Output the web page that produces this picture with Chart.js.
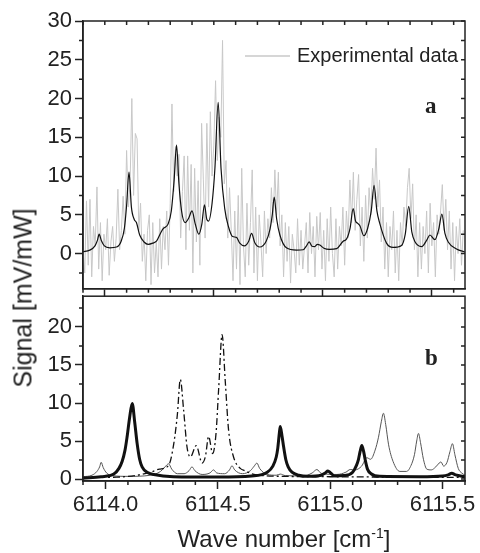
<!DOCTYPE html>
<html>
<head>
<meta charset="utf-8">
<script src="https://cdn.jsdelivr.net/npm/chart.js@4.4.0/dist/chart.umd.min.js"></script>
<style>
  body { margin: 0; background: #fff; }
  #wrap { position: relative; width: 480px; height: 553px; }
  #topBox { position: absolute; left: 0; top: 0; width: 480px; height: 305px; }
  #bottomBox { position: absolute; left: 0; top: 280px; width: 480px; height: 273px; }
  .axisTitle {
    position: absolute; font-family: 'Liberation Sans', Arial, sans-serif;
    color: #222; white-space: nowrap;
  }
  #yTitle { left: 23px; top: 298px; font-size: 25px; transform: translate(-50%, -50%) rotate(-90deg); }
  #xTitle { left: 284px; top: 539px; font-size: 24px; transform: translate(-50%, -50%); }
</style>
</head>
<body>
<div id="wrap">
  <div id="topBox"><canvas id="topChart"></canvas></div>
  <div id="bottomBox"><canvas id="bottomChart"></canvas></div>
  <div id="yTitle" class="axisTitle">Signal [mV/mW]</div>
  <div id="xTitle" class="axisTitle">Wave number [cm<sup style="font-size:14px">-1</sup>]</div>
</div>
<script>
// tick labels
const waveTicks = [6114.0, 6114.5, 6115.0, 6115.5];
const topSignalTicks = [0, 5, 10, 15, 20, 25, 30];
const bottomSignalTicks = [0, 5, 10, 15, 20];

// panel a: experimental data, sampled every 0.008 cm-1 from 6113.9
const expStart = 6113.9;
const expStep = 0.008;
const expSignal = [
  0.5, -2.5, 6.8, -1.5, 7.0, -3.0, 3.5, 1.0, 8.6, -2.0,
  4.0, -3.5, 2.5, 0.5, 4.5, -2.8, 1.5, 3.5, -1.0, 2.0,
  8.3, 0.5, 3.0, 7.4, 2.5, 13.3, 6.0, 9.0, 20.0, 7.5, 15.5, 14.8, 3.0, 6.5, -1.0,
  2.5, -3.5, 3.0, 5.0, -4.0, 4.0, -2.5, 1.5, -3.0, 4.5,
  -2.0, 3.5, 0.5, 5.5, -1.5, 6.5, 19.3, 8.0, 13.8, 10.0,
  12.8, 2.0, 8.0, 12.6, 0.5, 12.6, 3.0, 11.5, -2.5, 11.0,
  1.5, 9.4, -1.5, 16.8, 9.5, 2.0, 16.8, 6.0, 18.3, 10.0,
  14.0, 22.3, 12.0, 17.6, 15.0, 27.5, 9.0, 12.0, 2.0, 8.5,
  3.0, -3.5, 5.5, -2.0, 7.5, -4.0, 11.0, 1.0, -3.0, 6.5,
  -1.5, 4.0, 10.8, -2.5, 6.0, -3.5, 5.0, 1.5, -3.0, 5.5,
  0.0, 4.5, 2.0, 8.5, 4.0, 10.8, 5.0, 10.5, 1.0, 5.0,
  -3.0, 4.0, -1.0, 3.5, -3.8, 2.5, 0.5, -2.5, 4.5, -1.5,
  3.0, -2.0, 1.0, 4.0, -2.5, 5.3, 0.0, 3.5, -3.0, 4.8,
  0.5, 5.3, -2.0, 3.0, -3.5, 4.5, -1.0, 6.0, 0.0, -3.0,
  4.5, -2.0, 3.5, 1.0, 6.0, -1.5, 5.5, 2.0, 9.5, 4.0,
  10.5, 3.0, 7.0, 10.2, 1.0, 6.0, -1.0, 7.5, 2.0, 8.5,
  5.0, 11.0, 7.0, 13.6, 6.0, 9.5, 1.5, 6.0, -2.0, 4.0,
  -3.0, 3.5, 0.5, 5.5, -2.5, 3.0, -3.5, 4.0, 1.0, 6.0,
  3.5, 8.5, 11.0, 4.5, 9.0, 0.5, 5.0, -3.0, 4.0, -2.0,
  3.5, 0.0, 5.5, -2.5, 6.5, 1.0, 4.0, -3.0, 5.0, 2.5,
  5.5, 8.9, 3.0, 7.0, 0.5, 5.5, -2.0, 4.0, -3.5, 3.5,
  0.0, 4.5, -1.5, 3.0
];

// panel a: fitted spectrum
const fitWave = [
  6113.898, 6113.931, 6113.955, 6113.966, 6113.974, 6113.984, 6113.998, 6114.023, 6114.054, 6114.075,
  6114.090, 6114.100, 6114.111, 6114.122, 6114.135, 6114.145, 6114.160, 6114.180, 6114.199, 6114.220,
  6114.237, 6114.255, 6114.267, 6114.290, 6114.305, 6114.318, 6114.329, 6114.340, 6114.352, 6114.368,
  6114.385, 6114.400, 6114.415, 6114.431, 6114.445, 6114.457, 6114.468, 6114.476, 6114.492, 6114.505,
  6114.520, 6114.533, 6114.550, 6114.568, 6114.586, 6114.604, 6114.619, 6114.640, 6114.660, 6114.673,
  6114.688, 6114.711, 6114.740, 6114.758, 6114.768, 6114.777, 6114.788, 6114.803, 6114.833, 6114.879,
  6114.910, 6114.925, 6114.937, 6114.950, 6114.963, 6114.975, 6114.986, 6115.005, 6115.030, 6115.063,
  6115.093, 6115.109, 6115.125, 6115.139, 6115.150, 6115.160, 6115.170, 6115.188, 6115.205, 6115.222,
  6115.235, 6115.248, 6115.261, 6115.292, 6115.322, 6115.361, 6115.378, 6115.394, 6115.408, 6115.422,
  6115.453, 6115.478, 6115.491, 6115.514, 6115.532, 6115.546, 6115.560, 6115.575, 6115.613, 6115.652
];
const fitSignal = [
  0.25, 0.45, 1.0, 1.7, 2.5, 1.7, 1.0, 0.75, 0.85, 1.6,
  3.3, 6.2, 10.5, 6.0, 4.4, 4.0, 2.4, 1.5, 1.2, 1.35,
  1.6, 2.6, 3.2, 3.8, 5.5, 9.5, 14.0, 9.0, 5.5, 4.0,
  4.6, 5.5, 3.8, 2.5, 3.8, 6.3, 4.4, 4.2, 6.5, 11.0,
  19.5, 11.0, 5.8, 3.4, 2.2, 2.1, 1.35, 1.0, 1.6, 2.6,
  1.4, 0.85, 1.6, 3.2, 5.0, 7.3, 4.5, 2.4, 0.75, 0.45,
  0.5, 1.0, 1.5, 0.95, 0.9, 1.2, 1.1, 0.7, 0.55, 0.65,
  1.6, 1.9, 3.3, 5.8, 4.2, 3.9, 3.6, 2.3, 3.2, 5.5,
  8.8, 5.5, 3.9, 1.35, 0.8, 1.05, 2.5, 6.1, 2.8, 1.55,
  0.9, 1.8, 2.4, 1.8, 3.2, 5.1, 2.6, 1.5, 0.6, 0.2
];

// panel b: thick component
const thickWave = [
  6113.900, 6113.980, 6114.037, 6114.060, 6114.074, 6114.087, 6114.096, 6114.108, 6114.119, 6114.130,
  6114.141, 6114.152, 6114.163, 6114.185, 6114.215, 6114.302, 6114.500, 6114.650, 6114.720, 6114.745,
  6114.760, 6114.767, 6114.774, 6114.778, 6114.786, 6114.793, 6114.803, 6114.813, 6114.830, 6114.860,
  6114.900, 6114.960, 6114.978, 6114.990, 6115.002, 6115.020, 6115.060, 6115.100, 6115.117, 6115.126,
  6115.133, 6115.141, 6115.149, 6115.156, 6115.166, 6115.182, 6115.220, 6115.400, 6115.500, 6115.525,
  6115.541, 6115.558, 6115.600
];
const thickSignal = [
  0.1, 0.3, 0.65, 1.4, 2.3, 3.8, 5.5, 8.2, 9.95, 7.5,
  4.65, 2.6, 1.6, 0.9, 0.6, 0.3, 0.25, 0.4, 0.9, 1.7,
  2.9, 4.1, 6.1, 6.9, 5.6, 4.2, 2.5, 1.6, 0.9, 0.5,
  0.35, 0.5, 0.8, 1.05, 0.8, 0.4, 0.45, 0.9, 1.8, 2.6,
  3.6, 4.4, 3.6, 2.5, 1.3, 0.7, 0.35, 0.3, 0.4, 0.55,
  0.75, 0.55, 0.3
];

// panel b: dash-dot component
const dashWave = [
  6113.900, 6114.050, 6114.141, 6114.200, 6114.240, 6114.281, 6114.304, 6114.320, 6114.333, 6114.348,
  6114.363, 6114.378, 6114.404, 6114.430, 6114.445, 6114.459, 6114.477, 6114.492, 6114.504, 6114.519,
  6114.533, 6114.548, 6114.570, 6114.600, 6114.620, 6114.650, 6114.700, 6114.800, 6115.000, 6115.300,
  6115.600
];
const dashSignal = [
  0.2, 0.25, 0.5, 0.9, 1.3, 1.8, 4.65, 8.5, 13.1, 9.0,
  4.2, 2.9, 4.4, 2.1, 3.0, 5.6, 3.35, 6.0, 12.0, 19.0,
  12.9, 6.4, 2.9, 1.4, 1.1, 0.7, 0.45, 0.35, 0.3, 0.25,
  0.2
];

// panel b: thin component
const thinWave = [
  6113.900, 6113.940, 6113.962, 6113.974, 6113.981, 6113.990, 6114.005, 6114.030, 6114.100, 6114.200,
  6114.245, 6114.265, 6114.281, 6114.295, 6114.320, 6114.350, 6114.372, 6114.385, 6114.398, 6114.430,
  6114.465, 6114.481, 6114.495, 6114.530, 6114.552, 6114.563, 6114.575, 6114.610, 6114.645, 6114.662,
  6114.674, 6114.686, 6114.720, 6114.760, 6114.778, 6114.800, 6114.880, 6114.920, 6114.941, 6114.960,
  6115.030, 6115.070, 6115.089, 6115.110, 6115.140, 6115.163, 6115.180, 6115.200, 6115.215, 6115.228,
  6115.237, 6115.247, 6115.260, 6115.280, 6115.310, 6115.340, 6115.360, 6115.375, 6115.385, 6115.393,
  6115.402, 6115.415, 6115.430, 6115.450, 6115.470, 6115.485, 6115.493, 6115.505, 6115.520, 6115.533,
  6115.544, 6115.555, 6115.570, 6115.585, 6115.600
];
const thinSignal = [
  0.3, 0.5, 1.0, 1.6, 2.2, 1.5, 0.8, 0.45, 0.35, 0.5,
  1.0, 1.6, 2.0, 1.3, 0.7, 0.7, 1.1, 1.6, 1.1, 0.6,
  0.8, 1.2, 0.8, 0.7, 1.2, 1.75, 1.2, 0.7, 1.1, 1.7,
  2.1, 1.4, 0.6, 0.5, 0.65, 0.45, 0.4, 0.8, 1.25, 0.75,
  0.6, 0.9, 1.25, 1.2, 1.7, 2.8, 2.6, 3.8, 5.5, 7.6,
  8.65, 7.2, 4.5, 2.3, 1.0, 1.0, 1.8, 3.2, 5.0, 6.0,
  4.8, 2.6, 1.3, 1.2, 1.6, 2.1, 2.25, 1.7, 2.2, 3.6,
  4.65, 3.2, 1.4, 0.8, 0.5
];

const ink = '#222';
Chart.defaults.font.family = "'Liberation Sans', Arial, sans-serif";
Chart.defaults.color = ink;

const pts = (xs, ys) => xs.map((x, i) => ({ x: x, y: ys[i] }));

// minor ticks, inner ticks on top/right, the frame and the in-plot texts
const panelFrame = {
  id: 'panelFrame',
  afterDraw(chart, args, o) {
    const { ctx, chartArea: a } = chart;
    const xs = chart.scales.x, ys = chart.scales.y;
    ctx.save();
    ctx.strokeStyle = ink;
    ctx.lineWidth = 1.5;
    ctx.beginPath();
    for (let k = 0; ; k++) {
      const v = o.yFrom + k * 2.5;
      if (v > ys.max + 1e-6) break;
      const p = ys.getPixelForValue(v);
      if (Math.round(v / 2.5) % 2 !== 0) {
        ctx.moveTo(a.left - 4, p); ctx.lineTo(a.left, p);
      }
      ctx.moveTo(a.right, p); ctx.lineTo(a.right - 4, p);
    }
    for (let k = 0; ; k++) {
      const v = xs.min + k * 0.1;
      if (v > xs.max + 1e-6) break;
      const p = xs.getPixelForValue(v);
      if (Math.round(v * 10) % 5 !== 0) {
        ctx.moveTo(p, a.bottom); ctx.lineTo(p, a.bottom + 4);
      }
      if (o.topTicks) {
        ctx.moveTo(p, a.top); ctx.lineTo(p, a.top + 4);
      }
    }
    ctx.stroke();
    ctx.strokeRect(a.left, a.top, a.right - a.left, a.bottom - a.top);

    if (o.legend) {
      ctx.strokeStyle = '#c8c8c8';
      ctx.lineWidth = 1.5;
      ctx.beginPath();
      ctx.moveTo(245, 56); ctx.lineTo(290, 56);
      ctx.stroke();
      ctx.fillStyle = ink;
      ctx.font = "20px 'Liberation Sans', Arial, sans-serif";
      ctx.textBaseline = 'middle';
      ctx.textAlign = 'left';
      ctx.fillText(o.legend, 297, 56);
    }
    ctx.fillStyle = ink;
    ctx.font = "bold 23px 'Liberation Serif', 'Times New Roman', serif";
    ctx.textBaseline = 'alphabetic';
    ctx.textAlign = 'left';
    ctx.fillText(o.letter, o.letterX, o.letterY);
    ctx.restore();
  }
};

const tickGrid = { drawOnChartArea: false, tickLength: 8, tickWidth: 1.5, tickColor: ink };
const axisBorder = { color: ink, width: 1.5 };
const fixTicks = list => scale => { scale.ticks = list.map(v => ({ value: v })); };

new Chart(document.getElementById('topChart'), {
  type: 'line',
  data: {
    datasets: [{
      label: 'Fit',
      data: pts(fitWave, fitSignal),
      borderColor: '#111',
      borderWidth: 1.2,
      pointRadius: 0,
      cubicInterpolationMode: 'monotone',
      order: 0
    }, {
      label: 'Experimental data',
      data: expSignal.map((v, i) => ({ x: expStart + i * expStep, y: v })),
      borderColor: '#c8c8c8',
      borderWidth: 1,
      pointRadius: 0,
      order: 1
    }]
  },
  options: {
    responsive: true,
    maintainAspectRatio: false,
    animation: false,
    layout: { padding: { top: 21, right: 15, left: 0, bottom: 0 } },
    plugins: {
      legend: { display: false },
      tooltip: { enabled: false },
      panelFrame: { yFrom: -2.5, topTicks: true, legend: 'Experimental data', letter: 'a', letterX: 425, letterY: 113 }
    },
    scales: {
      x: {
        type: 'linear',
        min: 6113.9,
        max: 6115.652,
        afterBuildTicks: fixTicks(waveTicks),
        ticks: { display: false },
        grid: tickGrid,
        border: axisBorder,
        afterFit: s => { s.height = 10; }
      },
      y: {
        min: -4.54,
        max: 30,
        afterBuildTicks: fixTicks(topSignalTicks),
        ticks: { font: { size: 22 }, color: ink, padding: 3 },
        grid: tickGrid,
        border: axisBorder,
        afterFit: s => { s.width = 83; }
      }
    }
  },
  plugins: [panelFrame]
});

new Chart(document.getElementById('bottomChart'), {
  type: 'line',
  data: {
    datasets: [{
      label: 'Component 1',
      data: pts(thickWave, thickSignal),
      borderColor: '#111',
      borderWidth: 3,
      pointRadius: 0,
      cubicInterpolationMode: 'monotone'
    }, {
      label: 'Component 2',
      data: pts(dashWave, dashSignal),
      borderColor: '#111',
      borderWidth: 1.3,
      borderDash: [7, 3, 2, 3],
      pointRadius: 0,
      cubicInterpolationMode: 'monotone'
    }, {
      label: 'Component 3',
      data: pts(thinWave, thinSignal),
      borderColor: '#555',
      borderWidth: 1,
      pointRadius: 0,
      cubicInterpolationMode: 'monotone'
    }]
  },
  options: {
    responsive: true,
    maintainAspectRatio: false,
    animation: false,
    layout: { padding: { top: 15, right: 15, left: 0, bottom: 0 } },
    plugins: {
      legend: { display: false },
      tooltip: { enabled: false },
      panelFrame: { yFrom: 0, topTicks: false, legend: null, letter: 'b', letterX: 425, letterY: 365 - 280 }
    },
    scales: {
      x: {
        type: 'linear',
        min: 6113.9,
        max: 6115.6,
        afterBuildTicks: fixTicks(waveTicks),
        ticks: { font: { size: 22 }, color: ink, padding: 3, maxRotation: 0, callback: v => v.toFixed(1) },
        grid: tickGrid,
        border: axisBorder,
        afterFit: s => { s.height = 72; }
      },
      y: {
        min: -0.26,
        max: 24.05,
        afterBuildTicks: fixTicks(bottomSignalTicks),
        ticks: { font: { size: 22 }, color: ink, padding: 3 },
        grid: tickGrid,
        border: axisBorder,
        afterFit: s => { s.width = 83; }
      }
    }
  },
  plugins: [panelFrame]
});
</script>
</body>
</html>
